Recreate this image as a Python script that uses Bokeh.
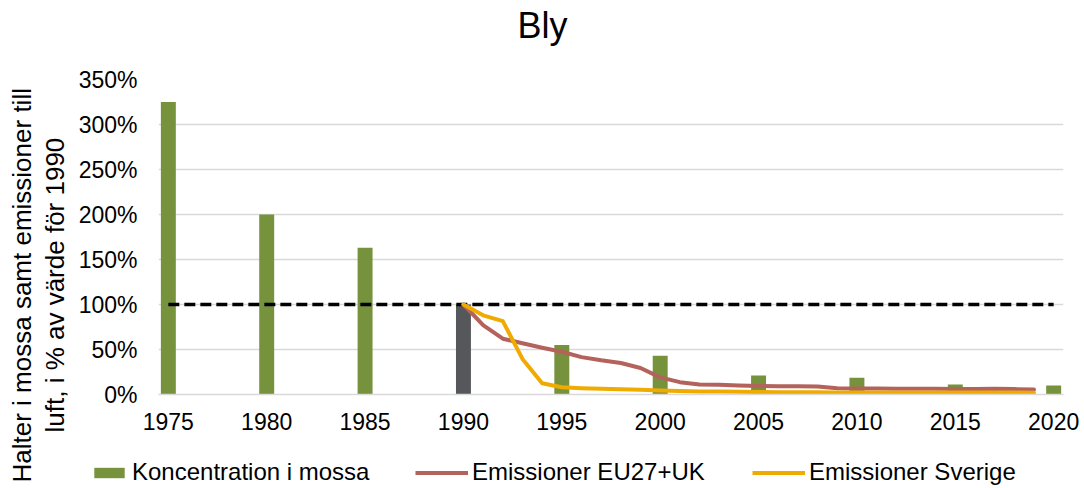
from bokeh.plotting import figure
from bokeh.models import (ColumnDataSource, Range1d, FixedTicker, Title,
                          Legend, LegendItem, CustomJSTickFormatter)
from bokeh.embed import file_html
from bokeh.resources import INLINE

# Year axis, labelled every fifth year
tick_years = [1975, 1980, 1985, 1990, 1995, 2000, 2005, 2010, 2015, 2020]
all_years = list(range(1975, 2021))

# Lead concentration in moss (% of 1990 value)
moss_years = [1975, 1980, 1985, 1990, 1995, 2000, 2005, 2010, 2015, 2020]
moss_values = [325, 200, 163, 100, 55, 43, 21, 18.5, 11, 10]

# Emissions to air (% of 1990 value)
emis_years = list(range(1990, 2020))
emis_eu = [100, 77, 62, 57, 52, 47.5, 41.5, 38, 35, 29.5,
           19, 13.7, 11, 10.7, 10, 9.5, 9.2, 9.1, 8.8, 7,
           6.8, 6.6, 6.5, 6.4, 6.3, 6.2, 6.1, 6.4, 6, 5.5]
emis_se = [100, 88, 81.5, 39.5, 12.5, 8, 7, 6.3, 5.8, 5.2,
           4.4, 3.8, 3.4, 3.2, 3, 2.7, 2.6, 2.5, 2.4, 2.2,
           2.2, 2.3, 2.2, 2.2, 2.1, 2.1, 2.1, 2.2, 2.1, 2.0]

# 1990 reference level
ref_level = [100] * len(all_years)

series_labels = ["Koncentration i mossa", "Emissioner EU27+UK", "Emissioner Sverige"]

GREEN = "#76923C"
GREY = "#56575B"
RED = "#B4625C"
ORANGE = "#F0AB00"
FONT = "Liberation Sans"
LINE_W = 4

bar_colors = [GREY if y == 1990 else GREEN for y in moss_years]
bars_src = ColumnDataSource(dict(year=moss_years, value=moss_values, color=bar_colors))

# ---------------------------------------------------------------- main chart
p = figure(width=1084, height=488,
           x_range=Range1d(1974.5, 2020.5), y_range=Range1d(0, 350),
           output_backend="svg", toolbar_location=None,
           min_border_left=158, min_border_right=21,
           min_border_top=79, min_border_bottom=94)
p.outline_line_color = None
p.background_fill_color = "white"
p.border_fill_color = "white"

# Grid
p.xgrid.visible = False
p.ygrid.ticker = FixedTicker(ticks=[50, 100, 150, 200, 250, 300, 350])
p.ygrid.grid_line_color = "#d9d9d9"
p.ygrid.grid_line_width = 1.5

# Y axis
p.yaxis.ticker = FixedTicker(ticks=[0, 50, 100, 150, 200, 250, 300, 350])
p.yaxis.formatter = CustomJSTickFormatter(code="return tick + '%';")
p.yaxis.axis_line_color = None
p.yaxis.major_tick_line_color = None
p.yaxis.minor_tick_line_color = None
p.yaxis.major_tick_out = 0
p.yaxis.major_label_text_font = FONT
p.yaxis.major_label_text_font_size = "23px"
p.yaxis.major_label_text_color = "black"
p.yaxis.major_label_standoff = 21

# X axis
p.xaxis.ticker = FixedTicker(ticks=tick_years)
p.xaxis.formatter = CustomJSTickFormatter(code="return tick.toFixed(0);")
p.xaxis.axis_line_color = "#d9d9d9"
p.xaxis.axis_line_width = 1.5
p.xaxis.major_tick_line_color = None
p.xaxis.minor_tick_line_color = None
p.xaxis.major_tick_out = 0
p.xaxis.major_label_text_font = FONT
p.xaxis.major_label_text_font_size = "23px"
p.xaxis.major_label_text_color = "black"
p.xaxis.major_label_standoff = 18

# Marks
p.vbar(x="year", top="value", width=0.76, source=bars_src,
       fill_color="color", line_color=None)
p.line(x=all_years, y=ref_level, line_color="black", line_width=3.5, line_dash="11 5")
p.line(x=emis_years, y=emis_eu, line_color=RED, line_width=LINE_W,
       line_join="round", line_cap="round")
p.line(x=emis_years, y=emis_se, line_color=ORANGE, line_width=LINE_W,
       line_join="round", line_cap="round")

# Chart title, with an empty spacer between it and the plot area
p.title = None
p.add_layout(Title(text=" ", text_font_size="20px", standoff=8), "above")
p.add_layout(Title(text="Bly", text_font=FONT, text_font_size="36px",
                   text_font_style="normal", text_color="black",
                   align="left", offset=359, vertical_align="top", standoff=0), "above")

# Two-line y axis title
p.add_layout(Title(text="luft, i % av värde för 1990", text_font=FONT,
                   text_font_size="26px", text_font_style="normal", text_color="black",
                   align="left", offset=-38, vertical_align="top", standoff=7), "left")
p.add_layout(Title(text="Halter i mossa samt emissioner till", text_font=FONT,
                   text_font_size="26px", text_font_style="normal", text_color="black",
                   align="left", offset=-88, vertical_align="bottom", standoff=0), "left")

# ---------------------------------------------------------------- key strip
# A transparent strip laid over the bottom of the chart that carries the key.
lf = figure(width=1084, height=38, x_range=Range1d(0, 1), y_range=Range1d(0, 1),
            output_backend="svg", toolbar_location=None,
            x_axis_location=None, y_axis_location=None,
            min_border_left=0, min_border_right=0, min_border_top=0, min_border_bottom=0,
            styles={"position": "absolute", "top": "450px", "left": "0px"})
lf.outline_line_color = None
lf.grid.visible = False
lf.background_fill_alpha = 0
lf.border_fill_alpha = 0

# the same series again; the strip's ranges keep them out of view
key_bar = lf.vbar(x="year", top="value", width=0.76, source=bars_src,
                  fill_color="color", line_color=None)
key_eu = lf.line(x=emis_years, y=emis_eu, line_color=RED, line_width=LINE_W)
key_se = lf.line(x=emis_years, y=emis_se, line_color=ORANGE, line_width=LINE_W)

LEGEND_STYLE = dict(orientation="horizontal", padding=0, margin=0, spacing=0,
                    border_line_color=None, background_fill_alpha=0,
                    glyph_height=13, label_standoff=4, label_height=28,
                    label_text_font=FONT, label_text_font_size="24px",
                    label_text_color="black")

for label, rend, x, gw, idx in [(series_labels[0], key_bar, 90, 38, 0),
                                (series_labels[1], key_eu, 415, 53, None),
                                (series_labels[2], key_se, 752, 53, None)]:
    item = LegendItem(label=label, renderers=[rend], index=idx)
    lf.add_layout(Legend(items=[item], location=(x, 2), glyph_width=gw,
                         **LEGEND_STYLE), "center")

open("out.html", "w").write(file_html([p, lf], INLINE))
